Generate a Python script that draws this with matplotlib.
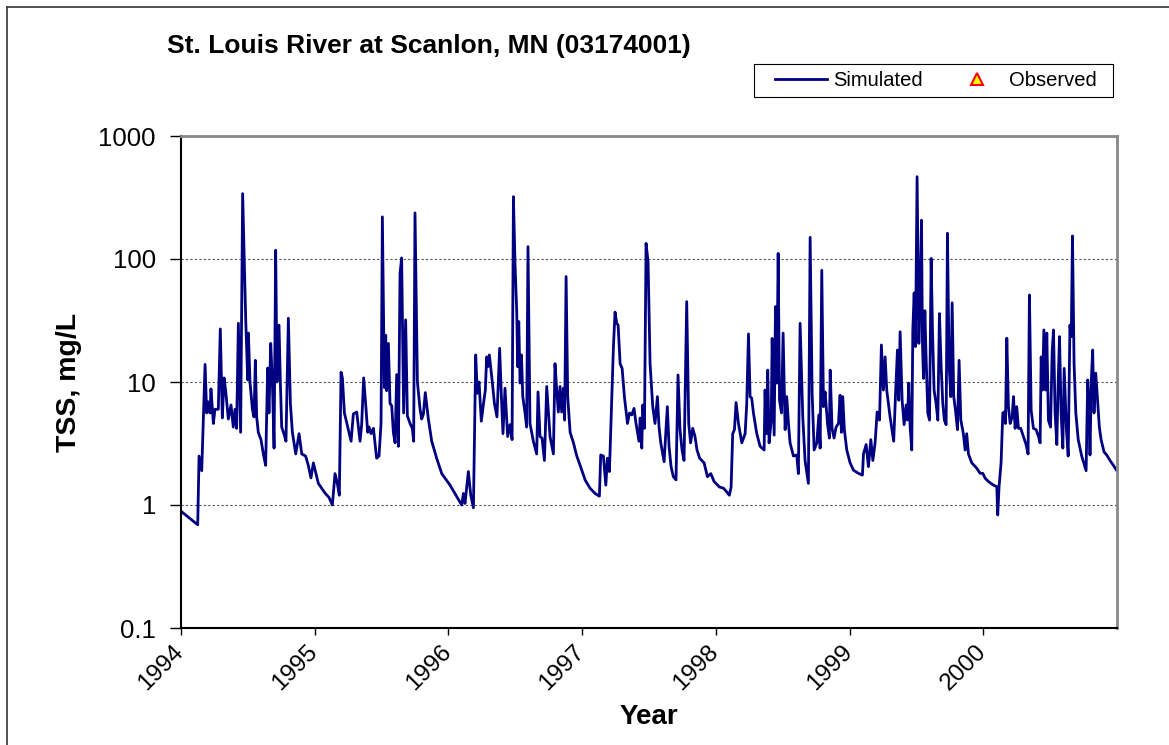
import numpy as np
import matplotlib
matplotlib.use("Agg")
import matplotlib.pyplot as plt
import matplotlib.transforms as mtransforms
from matplotlib.lines import Line2D
from matplotlib.patches import Rectangle

plt.rcParams['font.family'] = ['Liberation Sans', 'DejaVu Sans']

# years since 1 Jan 1994, TSS (mg/L)
t_1994 = [0.0, 0.125, 0.135, 0.155, 0.180, 0.192, 0.204, 0.217, 0.224, 0.242, 0.254, 0.279,
          0.294, 0.309, 0.322, 0.334, 0.354, 0.374, 0.391, 0.404, 0.416, 0.429, 0.446, 0.461,
          0.474, 0.484, 0.499, 0.504, 0.516, 0.534, 0.546, 0.556, 0.566, 0.578, 0.598, 0.616,
          0.633, 0.648, 0.658, 0.671, 0.683, 0.696, 0.708, 0.718, 0.733, 0.743, 0.753, 0.773,
          0.785, 0.803, 0.818, 0.833, 0.858, 0.883, 0.903, 0.932, 0.952, 0.972, 0.990]
v_1994 = [0.89, 0.69, 2.5, 1.9, 13.9, 5.6, 6.9, 5.6, 8.8, 4.6, 6.0, 6.0,
          27, 5.1, 10.8, 8.5, 5.0, 6.5, 4.3, 6.0, 4.2, 30, 3.9, 340,
          86, 32, 10.4, 25, 10, 6.0, 5.2, 15, 5.2, 3.9, 3.4, 2.6,
          2.1, 13, 5.6, 20.6, 10.4, 2.9, 118, 10, 29, 10, 4.3, 3.7,
          3.3, 33, 6.7, 3.9, 2.6, 3.8, 2.6, 2.5, 2.1, 1.66, 2.2]

t_1995 = [1.027, 1.077, 1.107, 1.132, 1.152, 1.169, 1.184, 1.197, 1.207, 1.222, 1.247, 1.272,
          1.289, 1.314, 1.339, 1.351, 1.366, 1.384, 1.396, 1.406, 1.421, 1.439, 1.463, 1.481,
          1.496, 1.506, 1.521, 1.531, 1.538, 1.551, 1.563, 1.576, 1.588, 1.601, 1.613, 1.626,
          1.638, 1.650, 1.665, 1.680, 1.693, 1.713, 1.730, 1.740, 1.750, 1.768, 1.788, 1.800,
          1.813, 1.827, 1.850, 1.875, 1.912, 1.950]
v_1995 = [1.5, 1.25, 1.15, 1.0, 1.8, 1.5, 1.2, 12, 10.8, 5.6, 4.3, 3.3,
          5.5, 5.7, 3.3, 4.5, 10.8, 6.0, 3.9, 4.3, 3.8, 4.2, 2.4, 2.5,
          4.6, 220, 9.0, 24, 8.5, 20.6, 6.7, 6.4, 3.9, 3.2, 11.5, 3.0,
          76, 102, 5.6, 32, 5.3, 4.6, 4.2, 3.3, 237, 10, 6.0, 5.0,
          5.5, 8.2, 5.0, 3.3, 2.4, 1.8]

t_1996 = [2.012, 2.049, 2.087, 2.099, 2.112, 2.124, 2.149, 2.167, 2.187, 2.204, 2.216, 2.229,
          2.246, 2.261, 2.276, 2.286, 2.294, 2.306, 2.324, 2.344, 2.363, 2.383, 2.396, 2.408,
          2.423, 2.443, 2.461, 2.476, 2.486, 2.498, 2.511, 2.518, 2.526, 2.536, 2.546, 2.556,
          2.573, 2.585, 2.595, 2.610, 2.635, 2.660, 2.670, 2.685, 2.700, 2.718, 2.735, 2.760,
          2.785, 2.797, 2.810, 2.822, 2.835, 2.847, 2.860, 2.869, 2.880, 2.892, 2.910, 2.935,
          2.960, 2.985]
v_1996 = [1.45, 1.24, 1.06, 1.0, 1.24, 1.03, 1.87, 1.2, 0.95, 16.6, 8.1, 10,
          4.8, 6.5, 8.6, 16, 13.3, 16.6, 11, 6.7, 5.2, 18.8, 7.6, 3.8,
          8.9, 3.6, 4.5, 3.4, 321, 92, 37, 13.3, 31, 9.8, 16.6, 7.6,
          5.6, 4.3, 126, 4.6, 3.3, 2.6, 8.3, 3.6, 3.5, 2.3, 9.2, 3.6,
          2.6, 14.1, 8.6, 5.7, 9.2, 5.7, 8.9, 4.9, 72, 7.6, 3.9, 3.2,
          2.5, 2.1]

t_1997 = [3.022, 3.059, 3.097, 3.129, 3.139, 3.159, 3.177, 3.189, 3.204, 3.222, 3.234, 3.246,
          3.259, 3.269, 3.284, 3.299, 3.316, 3.339, 3.354, 3.371, 3.388, 3.403, 3.425, 3.434,
          3.446, 3.453, 3.466, 3.478, 3.493, 3.508, 3.528, 3.545, 3.563, 3.575, 3.588, 3.613,
          3.637, 3.650, 3.665, 3.682, 3.702, 3.717, 3.732, 3.747, 3.762, 3.782, 3.797, 3.811,
          3.827, 3.844, 3.859, 3.879, 3.912, 3.937, 3.962, 3.987]
v_1997 = [1.6, 1.37, 1.24, 1.18, 2.55, 2.5, 1.45, 2.4, 1.87, 7.8, 19.4, 37,
          30, 29, 14.1, 12.9, 7.6, 4.6, 5.6, 5.4, 6.1, 4.6, 3.3, 5.1,
          2.9, 6.5, 4.2, 134, 95, 14.1, 6.3, 4.6, 7.6, 4.3, 3.2, 2.25,
          6.3, 3.0, 2.05, 1.7, 1.6, 11.4, 4.1, 2.8, 2.3, 45, 4.6, 3.2,
          4.2, 3.6, 2.8, 2.4, 2.2, 1.7, 1.8, 1.55]

t_1998 = [4.027, 4.057, 4.081, 4.101, 4.114, 4.126, 4.139, 4.151, 4.169, 4.194, 4.219, 4.231,
          4.244, 4.256, 4.268, 4.281, 4.306, 4.331, 4.361, 4.368, 4.378, 4.388, 4.398, 4.414,
          4.421, 4.436, 4.446, 4.456, 4.466, 4.476, 4.491, 4.503, 4.518, 4.530, 4.543, 4.555,
          4.580, 4.605, 4.617, 4.630, 4.650, 4.667, 4.692, 4.705, 4.720, 4.735, 4.755, 4.770,
          4.780, 4.792, 4.805, 4.817, 4.835, 4.849, 4.855, 4.869, 4.884, 4.899, 4.917, 4.929,
          4.939, 4.949, 4.961, 4.979]
v_1998 = [1.4, 1.37, 1.28, 1.2, 1.4, 3.8, 4.1, 6.8, 4.6, 3.2, 3.8, 6.7,
          24.6, 7.6, 7.4, 5.6, 3.8, 3.0, 2.8, 8.6, 3.8, 12.5, 3.2, 4.9,
          22.6, 3.7, 41, 9.8, 111, 7.1, 5.6, 25, 4.1, 7.6, 4.6, 3.2,
          2.5, 2.55, 1.8, 30, 5.2, 2.3, 1.5, 150, 8.1, 2.8, 3.2, 5.4,
          2.9, 81, 6.3, 8.3, 4.6, 3.5, 12.5, 4.2, 3.5, 4.3, 4.6, 7.8,
          3.9, 7.6, 4.1, 2.8]

t_1999 = [5.004, 5.029, 5.066, 5.096, 5.104, 5.124, 5.141, 5.159, 5.174, 5.191, 5.206, 5.224,
          5.238, 5.253, 5.266, 5.278, 5.303, 5.330, 5.345, 5.358, 5.368, 5.378, 5.393, 5.408,
          5.423, 5.433, 5.443, 5.453, 5.465, 5.473, 5.483, 5.493, 5.505, 5.518, 5.528, 5.538,
          5.545, 5.553, 5.563, 5.573, 5.585, 5.598, 5.610, 5.620, 5.632, 5.647, 5.660, 5.672,
          5.684, 5.697, 5.709, 5.722, 5.732, 5.744, 5.757, 5.767, 5.779, 5.792, 5.807, 5.819,
          5.832, 5.851, 5.864, 5.876, 5.889, 5.914, 5.951, 5.976]
v_1999 = [2.2, 1.92, 1.81, 1.75, 2.6, 3.1, 2.05, 3.4, 2.3, 3.2, 5.7, 4.9,
          20, 8.6, 16, 8.6, 5.2, 3.3, 8.6, 18.2, 7.1, 25.6, 7.1, 4.5,
          6.5, 4.9, 9.8, 4.3, 2.8, 26.5, 53, 19.4, 467, 20.6, 49, 207,
          20.6, 10.7, 38, 15, 5.6, 4.9, 101, 26.5, 8.6, 6.7, 4.9, 36,
          14.1, 6.7, 4.9, 4.5, 162, 14.1, 7.6, 44, 7.6, 5.9, 4.1, 15,
          4.9, 3.8, 2.8, 3.8, 2.6, 2.2, 1.99, 1.81]

t_2000 = [5.996, 6.014, 6.039, 6.076, 6.101, 6.108, 6.118, 6.133, 6.146, 6.158, 6.166, 6.176,
          6.188, 6.201, 6.216, 6.226, 6.238, 6.250, 6.263, 6.280, 6.300, 6.320, 6.335, 6.345,
          6.358, 6.375, 6.395, 6.413, 6.425, 6.433, 6.443, 6.453, 6.465, 6.475, 6.487, 6.503,
          6.515, 6.525, 6.537, 6.550, 6.560, 6.570, 6.582, 6.595, 6.605, 6.622, 6.635, 6.648,
          6.658, 6.667, 6.679, 6.692, 6.710, 6.736, 6.769, 6.781, 6.791, 6.798, 6.808, 6.818,
          6.828, 6.841, 6.853, 6.868, 6.881, 6.903, 6.923, 6.948, 6.973, 6.999]
v_2000 = [1.81, 1.65, 1.55, 1.45, 1.41, 0.83, 1.41, 2.2, 5.6, 5.7, 4.6, 22.7,
          6.3, 4.6, 5.2, 7.6, 4.2, 6.3, 4.2, 4.2, 3.6, 3.1, 2.6, 51,
          5.9, 4.2, 4.1, 3.6, 3.2, 16, 8.6, 26.5, 8.6, 25, 4.9, 4.3,
          17.6, 26.5, 5.6, 3.1, 9.8, 23.4, 5.6, 2.9, 12.9, 4.1, 2.5, 29,
          23.4, 154, 14.1, 5.6, 3.4, 2.5, 1.9, 10.4, 6.3, 2.55, 10.4, 18.2,
          5.6, 11.8, 7.6, 4.3, 3.4, 2.7, 2.55, 2.3, 2.1, 1.9]

years = [1994, 1995, 1996, 1997, 1998, 1999, 2000]

t = 1994 + np.array(t_1994 + t_1995 + t_1996 + t_1997 + t_1998 + t_1999 + t_2000)
tss = np.array(v_1994 + v_1995 + v_1996 + v_1997 + v_1998 + v_1999 + v_2000)

W, H = 1169, 745
fig = plt.figure(figsize=(W / 100, H / 100), dpi=100)
ax = fig.add_axes([181 / W, 1 - 628 / H, 936 / W, 492 / H])

ax.plot(t, tss, color='#000080', lw=2)

ax.set_yscale('log')
ax.set_ylim(0.1, 1000)
ax.set_xlim(1994, 2001)
ax.set_yticks([0.1, 1, 10, 100, 1000])
ax.set_yticklabels(['0.1', '1', '10', '100', '1000'])
ax.yaxis.set_minor_locator(matplotlib.ticker.NullLocator())
ax.set_xticks(years)
ax.set_xticklabels([str(y) for y in years], rotation=45, ha='right')
ax.tick_params(axis='y', labelsize=18.5, length=8, width=1, direction='out', pad=10)
ax.tick_params(axis='x', labelsize=17.5, length=5, width=1, direction='out', pad=4)
shift = mtransforms.ScaledTranslation(7 / 100, 0, fig.dpi_scale_trans)
for lbl in ax.get_xticklabels():
    lbl.set_transform(lbl.get_transform() + shift)

for yv in [1, 10, 100]:
    ax.axhline(yv, color='#555555', lw=0.8, ls=(0, (2, 2)), zorder=0)

for s in ['top', 'right']:
    ax.spines[s].set_color('#888888')
    ax.spines[s].set_linewidth(2)
for s in ['left', 'bottom']:
    ax.spines[s].set_color('black')
    ax.spines[s].set_linewidth(1.5)

ax.set_ylabel('TSS, mg/L', fontsize=20.5, fontweight='bold', labelpad=12)
ax.set_xlabel('Year', fontsize=20, fontweight='bold', labelpad=7)

fig.text(167 / W, 1 - 46 / H, 'St. Louis River at Scanlon, MN (03174001)',
         fontsize=19, fontweight='bold', ha='left', va='center')

# legend box
fig.add_artist(Rectangle((754 / W, 1 - 97 / H), 359 / W, 33 / H, transform=fig.transFigure,
                         fill=False, edgecolor='black', lw=0.8))
handles = [Line2D([], [], color='#000080', lw=2),
           Line2D([], [], marker='^', ls='none', mfc='yellow', mec='red', mew=1.5, ms=8)]
fig.legend(handles, ['Simulated', 'Observed'], ncol=2, loc='center left',
           bbox_to_anchor=(775 / W, 1 - 97 / H, 322 / W, 33 / H),
           mode='expand', fontsize=14.5, frameon=False,
           borderaxespad=0, borderpad=0, handlelength=2.6, handletextpad=0.3)

# outer chart border (left and top visible)
fig.add_artist(Line2D([7 / W, 7 / W], [0, 1 - 7 / H], transform=fig.transFigure,
                      color='#333333', lw=1.2))
fig.add_artist(Line2D([7 / W, 1], [1 - 7 / H, 1 - 7 / H], transform=fig.transFigure,
                      color='#333333', lw=1.2))

fig.savefig('out.png', dpi=100)
